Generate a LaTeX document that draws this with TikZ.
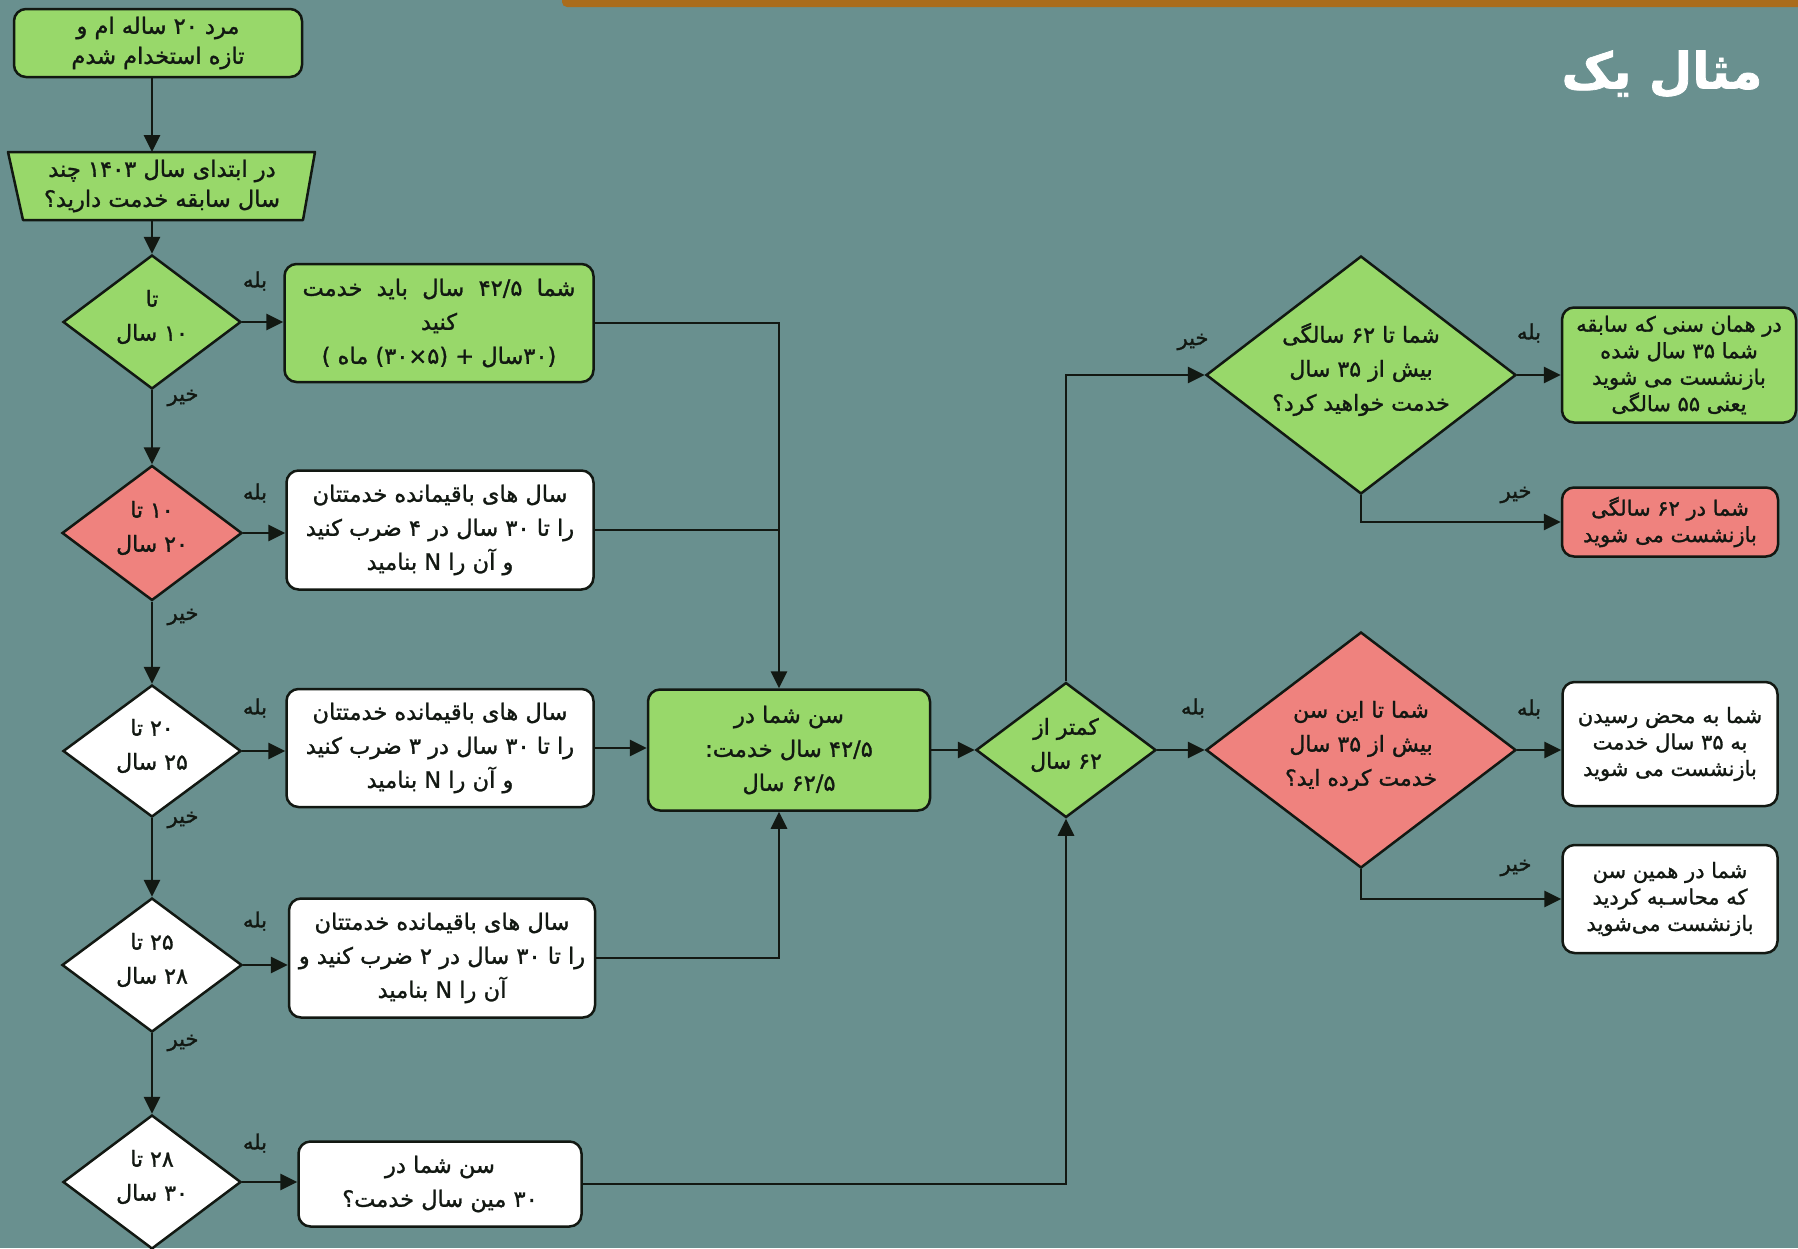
\documentclass[tikz,border=0pt]{standalone}
\usepackage{fontspec}
\usetikzlibrary{arrows.meta,shapes.geometric}
\TeXXeTstate=1
\newfontfamily\arabicfont[Script=Arabic,FakeBold=1.3]{DejaVu Sans}
\newfontfamily\titlefont[Script=Arabic,FakeBold=1.5]{DejaVu Sans Bold}
\newcommand\fa[1]{\beginR #1\endR}
\newcommand\dtx[1]{\makebox[0pt]{\raisebox{0pt}[0pt][0pt]{\begin{tabular}{@{}c@{}}#1\end{tabular}}}}
\definecolor{bg}{RGB}{105,144,143}
\definecolor{gfill}{RGB}{152,216,106}
\definecolor{rfill}{RGB}{239,130,126}
\definecolor{edge}{RGB}{18,24,18}
\definecolor{barc}{RGB}{170,108,28}
\begin{document}
\begin{tikzpicture}[x=1pt,y=-1pt,
  txt/.style={font=\arabicfont\fontsize{22.5}{34}\selectfont, text=edge},
  dtxt/.style={font=\arabicfont\fontsize{22}{34}\selectfont, text=edge},
  small/.style={font=\arabicfont\fontsize{21}{26.5}\selectfont, text=edge},
  box/.style={txt, draw=edge, line width=2.5pt, rounded corners=12pt, inner sep=0pt, align=center},
  gbox/.style={box, fill=gfill},
  wbox/.style={box, fill=white},
  rbox/.style={box, fill=rfill},
  dia/.style={dtxt, diamond, draw=edge, line width=2.5pt, inner sep=0pt},
  gdia/.style={dia, fill=gfill},
  wdia/.style={dia, fill=white},
  rdia/.style={dia, fill=rfill},
  arr/.style={draw=edge, line width=2.8pt, -{Triangle[length=17pt,width=16pt]}},
  ln/.style={draw=edge, line width=2.8pt},
  lab/.style={font=\arabicfont\fontsize{21}{22}\selectfont, text=edge, inner sep=0pt}
]
\useasboundingbox (0,0) rectangle (1798,1248);
\fill[bg] (0,0) rectangle (1798,1248);
\fill[barc, rounded corners=5pt] (562,-8) rectangle (1810,7);

% title
\node[font=\titlefont\fontsize{50}{54}\selectfont, text=white, anchor=east] (title) at (1766,74) {\fa{مثال یک}};

% left column
\node[gbox, font=\arabicfont\fontsize{22.5}{30}\selectfont, minimum width=288pt, minimum height=68pt] (start) at (158,43)
  {\fa{مرد ۲۰ ساله ام و}\\\fa{تازه استخدام شدم}};
\filldraw[fill=gfill, draw=edge, line width=2.5pt, line join=round] (8,152) -- (315,152) -- (303,220) -- (23,220) -- cycle;
\node[txt, font=\arabicfont\fontsize{22.5}{30}\selectfont, align=center, minimum width=295pt, minimum height=68pt, inner sep=0pt] (trap) at (162,186)
  {\fa{در ابتدای سال ۱۴۰۳ چند}\\\fa{سال سابقه خدمت دارید؟}};

\node[gdia, minimum width=178pt, minimum height=134pt] (d1) at (152,322) {\dtx{\fa{تا}\\\fa{۱۰ سال}}};
\node[rdia, minimum width=180pt, minimum height=135pt] (d2) at (152,533) {\dtx{\fa{۱۰ تا}\\\fa{۲۰ سال}}};
\node[wdia, minimum width=178pt, minimum height=132pt] (d3) at (152,751) {\dtx{\fa{۲۰ تا}\\\fa{۲۵ سال}}};
\node[wdia, minimum width=180pt, minimum height=134pt] (d4) at (152,965) {\dtx{\fa{۲۵ تا}\\\fa{۲۸ سال}}};
\node[wdia, minimum width=178pt, minimum height=134pt] (d5) at (152,1182) {\dtx{\fa{۲۸ تا}\\\fa{۳۰ سال}}};

\node[gbox, minimum width=309pt, minimum height=118pt] (b1) at (439,323)
  {\fa{شما\ \ ۴۲/۵\ \ سال\ \ باید\ \ خدمت}\\\fa{کنید}\\\fa{(۳۰سال + (۵×۳۰) ماه )}};
\node[wbox, minimum width=307pt, minimum height=119pt] (b2) at (440,530)
  {\fa{سال های باقیمانده خدمتتان}\\\fa{را تا ۳۰ سال در ۴ ضرب کنید}\\\fa{و آن را N بنامید}};
\node[wbox, minimum width=307pt, minimum height=118pt] (b3) at (440,748)
  {\fa{سال های باقیمانده خدمتتان}\\\fa{را تا ۳۰ سال در ۳ ضرب کنید}\\\fa{و آن را N بنامید}};
\node[wbox, minimum width=306pt, minimum height=119pt] (b4) at (442,958)
  {\fa{سال های باقیمانده خدمتتان}\\\fa{را تا ۳۰ سال در ۲ ضرب کنید و}\\\fa{آن را N بنامید}};
\node[wbox, minimum width=283pt, minimum height=85pt] (b5) at (440,1184)
  {\fa{سن شما در}\\\fa{۳۰ مین سال خدمت؟}};

% middle
\node[gbox, minimum width=282pt, minimum height=121pt] (C) at (789,750)
  {\fa{سن شما در}\\\fa{۴۲/۵ سال خدمت:}\\\fa{۶۲/۵ سال}};
\node[gdia, minimum width=180pt, minimum height=135pt] (d6) at (1066,750) {\dtx{\fa{کمتر از}\\\fa{۶۲ سال}}};

% right
\node[gdia, minimum width=310pt, minimum height=238pt] (bd1) at (1361,375)
  {\dtx{\fa{شما تا ۶۲ سالگی}\\\fa{بیش از ۳۵ سال}\\\fa{خدمت خواهید کرد؟}}};
\node[rdia, minimum width=310pt, minimum height=236pt] (bd2) at (1361,750)
  {\dtx{\fa{شما تا این سن}\\\fa{بیش از ۳۵ سال}\\\fa{خدمت کرده اید؟}}};
\node[gbox, small, minimum width=234pt, minimum height=115pt] (r1) at (1679,365)
  {\fa{در همان سنی که سابقه}\\\fa{شما ۳۵ سال شده}\\\fa{بازنشست می شوید}\\\fa{یعنی ۵۵ سالگی}};
\node[rbox, small, minimum width=216pt, minimum height=69pt] (r2) at (1670,522)
  {\fa{شما در ۶۲ سالگی}\\\fa{بازنشست می شوید}};
\node[wbox, small, minimum width=215pt, minimum height=124pt] (r3) at (1670,744)
  {\fa{شما به محض رسیدن}\\\fa{به ۳۵ سال خدمت}\\\fa{بازنشست می شوید}};
\node[wbox, small, minimum width=215pt, minimum height=108pt] (r4) at (1670,899)
  {\fa{شما در همین سن}\\\fa{که محاسـبه کردید}\\\fa{بازنشست می‌شوید}};

% helper coordinates
\coordinate (tN) at (152,152);
\coordinate (tS) at (152,220);
\coordinate (sS) at (152,77);
\coordinate (cN) at ([xshift=-10pt]C.north);
\coordinate (cS) at ([xshift=-10pt]C.south);

% connectors
\draw[arr] (sS) -- (tN);
\draw[arr] (tS) -- (d1.north);
\draw[arr] (d1.south) -- (d2.north);
\draw[arr] (d2.south) -- (d3.north);
\draw[arr] (d3.south) -- (d4.north);
\draw[arr] (d4.south) -- (d5.north);
\draw[arr] (d1.east) -- (d1.east -| b1.west);
\draw[arr] (d2.east) -- (d2.east -| b2.west);
\draw[arr] (d3.east) -- (d3.east -| b3.west);
\draw[arr] (d4.east) -- (d4.east -| b4.west);
\draw[arr] (d5.east) -- (d5.east -| b5.west);
\draw[arr] (b1.east) -| (cN);
\draw[ln] (b2.east) -- (b2.east -| cN);
\draw[arr] (b3.east) -- (b3.east -| C.west);
\draw[arr] (b4.east) -| (cS);
\draw[arr] (C.east) -- (d6.west);
\draw[arr] (b5.east) -| (d6.south);
\draw[arr] (d6.north) |- (bd1.west);
\draw[arr] (d6.east) -- (bd2.west);
\draw[arr] (bd1.east) -- (bd1.east -| r1.west);
\draw[arr] (bd1.south) |- (r2.west);
\draw[arr] (bd2.east) -- (bd2.east -| r3.west);
\draw[arr] (bd2.south) |- (r4.west);

% labels
\node[lab] (y1) at (255,281) {\fa{بله}};
\node[lab] (y2) at (255,493) {\fa{بله}};
\node[lab] (y3) at (255,708) {\fa{بله}};
\node[lab] (y4) at (255,921) {\fa{بله}};
\node[lab] (y5) at (255,1143) {\fa{بله}};
\node[lab] (n1) at (183,398) {\fa{خیر}};
\node[lab] (n2) at (183,617) {\fa{خیر}};
\node[lab] (n3) at (183,820) {\fa{خیر}};
\node[lab] (n4) at (183,1043) {\fa{خیر}};
\node[lab] (n6) at (1193,342) {\fa{خیر}};
\node[lab] (y6) at (1193,708) {\fa{بله}};
\node[lab] (y7) at (1529,333) {\fa{بله}};
\node[lab] (n7) at (1516,495) {\fa{خیر}};
\node[lab] (y8) at (1529,709) {\fa{بله}};
\node[lab] (n8) at (1516,868) {\fa{خیر}};
\end{tikzpicture}
\end{document}
